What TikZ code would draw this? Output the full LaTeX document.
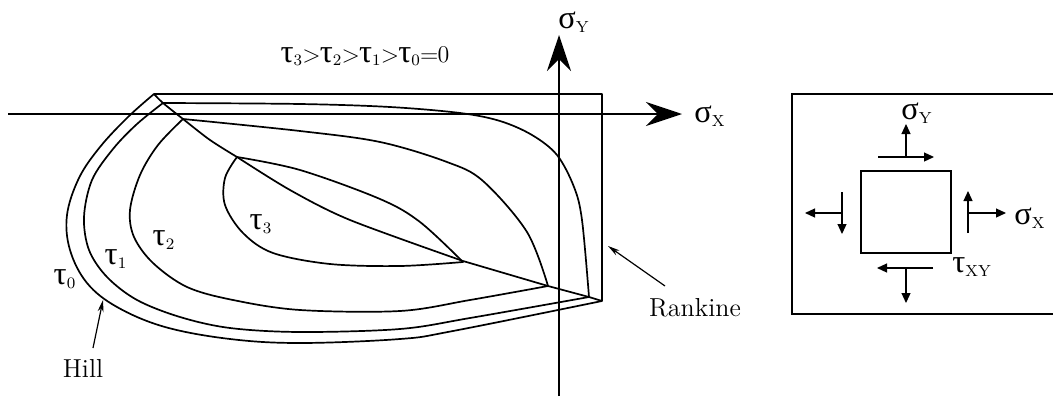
\documentclass[tikz,border=0pt]{standalone}
\usepackage{fontspec}
\usetikzlibrary{arrows.meta,positioning}
\newfontfamily\gkfont[Scale=1.35]{Liberation Serif}
\newcommand{\tauv}[1]{{\gkfont τ}$_{\mathrm{#1}}$}
\newcommand{\sigv}[1]{{\gkfont σ}$_{\mathrm{#1}}$}
\newcommand{\grt}{\kern-0.4pt>\kern-0.4pt}

\begin{document}
\begin{tikzpicture}[
  x=0.5pt, y=-0.5pt,
  curve/.style={line width=0.85pt, line join=round},
  axis/.style={line width=1.4pt, -{Stealth[length=18pt,width=12pt,inset=6pt]}},
  pointer/.style={line width=0.6pt, -{Stealth[length=6pt,width=3pt]}},
  force/.style={line width=0.6pt, -{Triangle[length=5pt,width=4.5pt]}},
  lbl/.style={font=\fontsize{12}{14}\selectfont, inner sep=0pt},
  critlbl/.style={font=\fontsize{13}{15}\selectfont, inner sep=0pt}
]
\useasboundingbox (0,0) rectangle (1053,396);

% yield curves, outer one closed by the Rankine box
\draw[curve] (154,94) -- (602,94) -- (602,301)
  -- plot[smooth,tension=0.6] coordinates {(602,301) (453,331) (400,339)
     (300,343) (230,339) (165,327) (117,307) (87,283) (70,250) (67,215) (79,178)
     (100,147) (128,117) (154,94)} -- cycle;
\draw[curve] plot[smooth,tension=0.55] coordinates {(163,103) (300,104) (390,107)
     (460,113) (500,121) (532,135) (557,155) (574,187) (582,220) (589,297)}
  -- plot[smooth,tension=0.55] coordinates {(589,297) (470,318) (400,329) (300,332)
     (230,328) (180,317) (137,300) (107,277) (89,250) (84,217) (92,180) (113,149)
     (137,124) (163,103)};
\draw[curve] plot[smooth,tension=0.55] coordinates {(183,119) (300,131) (380,142)
     (447,162) (483,181) (527,232) (548,286)}
  -- plot[smooth,tension=0.55] coordinates {(548,286) (470,300) (400,311)
     (300,310) (233,300) (187,287) (153,263) (134,237) (130,210)
     (140,175) (158,145) (183,119)};
\draw[curve] plot[smooth,tension=0.55] coordinates {(237,157) (300,170)
     (380,199) (420,222) (463,262)}
  -- plot[smooth,tension=0.55] coordinates {(463,262) (400,266) (330,264)
     (273,253) (243,233) (225,205) (225,178) (237,157)};
% ridge through the corners
\draw[curve] plot[smooth,tension=0.5] coordinates {(154,94) (163,103) (183,119)
     (210,140) (237,157)}
  -- plot[smooth,tension=0.5] coordinates {(237,157) (290,190) (350,220)
     (463,261)} -- (548,286) -- (589,297) -- (602,301);

% axes
\coordinate (xs) at (8,114);
\coordinate (xe) at (682,114);
\coordinate (ys) at (559,396);
\coordinate (ye) at (559,35);
\draw[axis] (xs) -- (xe);
\draw[axis] (ys) -- (ye);
\node[lbl] (sx) at (710,116) {\sigv{X}};
\node[lbl] (sy) at (574,22) {\sigv{Y}};

% labels
\node[lbl] (order) at (365,56)
  {\tauv{3}\grt\tauv{2}\grt\tauv{1}\grt\tauv{0}\kern-0.4pt=\kern-0.4pt0};
\node[lbl] (t0) at (65,279) {\tauv{0}};
\node[lbl] (t1) at (116,259) {\tauv{1}};
\node[lbl] (t2) at (164,240) {\tauv{2}};
\node[lbl] (t3) at (261,224) {\tauv{3}};
\node[critlbl] (hill) at (83,368) {Hill};
\node[critlbl] (rank) at (695,308) {Rankine};
\coordinate (hilltail) at (93,348);
\coordinate (hilltip) at (103,300);
\coordinate (rktail) at (665,286);
\coordinate (rktip) at (608,246);
\draw[pointer] (hilltail) -- (hilltip);
\draw[pointer] (rktail) -- (rktip);

% stress element
\draw[line width=1pt] (1053,94) -- (792,94) -- (792,314) -- (1053,314);
\node[draw, line width=0.7pt, minimum width=45pt, minimum height=41pt,
  inner sep=0pt] (elem) at (906,212) {};
\draw[force] (906,157) -- (906,124);
\draw[force] (878,157) -- (934,157);
\draw[force] (968,233) -- (968,191);
\draw[force] (968,213) -- (1006,213);
\draw[force] (842,213) -- (805,213);
\draw[force] (842,192) -- (842,234);
\draw[force] (933,268) -- (877,268);
\draw[force] (906,268) -- (906,303);
\node[lbl] (esy) at (917,113) {\sigv{Y}};
\node[lbl] (esx) at (1030,218) {\sigv{X}};
\node[lbl] (etxy) at (972,267) {\tauv{XY}};
\end{tikzpicture}
\end{document}
